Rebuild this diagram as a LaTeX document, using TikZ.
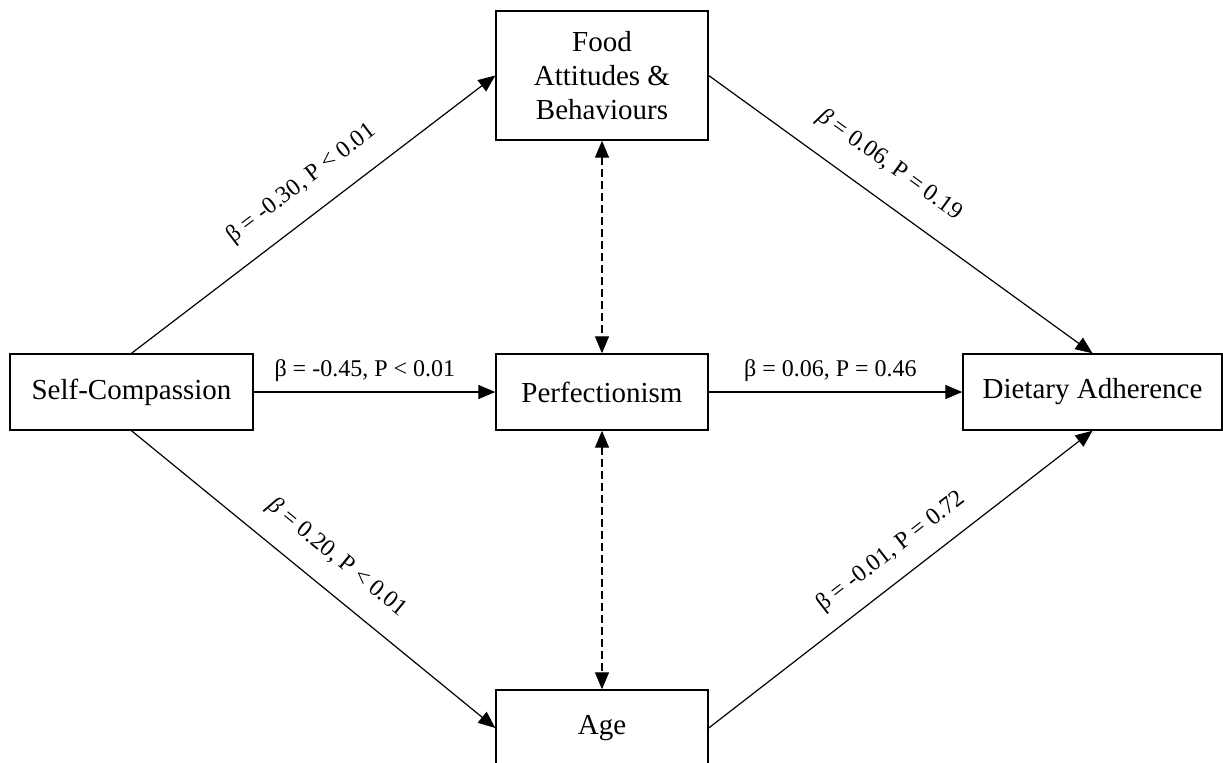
\documentclass[tikz,border=0pt]{standalone}
\usepackage{fontspec}
\setmainfont{Liberation Serif}
\usetikzlibrary{arrows.meta}
\begin{document}
\begin{tikzpicture}[x=0.5pt,y=-0.5pt,
  box/.style={draw,line width=0.7pt,inner sep=0pt,align=center,font=\fontsize{14.5}{17}\selectfont,minimum height=38pt},
  conn/.style={line width=0.6pt,-{Triangle[length=8.5pt,width=7pt]}},
  dconn/.style={line width=0.6pt,dash pattern=on 4pt off 2pt,{Triangle[length=8.5pt,width=7pt]}-{Triangle[length=8.5pt,width=7pt]}},
  lab/.style={font=\fontsize{12}{14}\selectfont,inner sep=0pt}]
\useasboundingbox (0,0) rectangle (1223,762);
\clip (0,0) rectangle (1223,762);
\node[box,minimum width=106pt,minimum height=64.5pt] (food) at (602,75.5) {Food\\Attitudes \&\\Behaviours};
\node[box,minimum width=121.5pt] (self) at (131.5,392) {Self-Compassion};
\node[box,minimum width=106pt] (perf) at (602,392) {Perfectionism};
\node[box,minimum width=129.5pt] (diet) at (1092.5,392) {Dietary Adherence};
\node[box,minimum width=106pt] (age) at (602,728) {Age};
\draw[conn] (self.north) -- node[lab,sloped,above=10pt,pos=0.52] {β = -0.30, P < 0.01} (food.west);
\draw[conn] (self.east) -- node[lab,above=5pt,pos=0.46] {β = -0.45, P < 0.01} (perf.west);
\draw[conn] (self.south) -- node[lab,sloped,above=10pt,pos=0.51] {\textit{β} = 0.20, P < 0.01} (age.west);
\draw[conn] (food.east) -- node[lab,sloped,above=11pt,pos=0.42] {\textit{β} = 0.06, P = 0.19} (diet.north);
\draw[conn] (perf.east) -- node[lab,above=5pt,pos=0.48] {β = 0.06, P = 0.46} (diet.west);
\draw[conn] (age.east) -- node[lab,sloped,above=8pt,pos=0.52] {β = -0.01, P = 0.72} (diet.south);
\draw[dconn] (food.south) -- (perf.north);
\draw[dconn] (perf.south) -- (age.north);
\end{tikzpicture}
\end{document}
